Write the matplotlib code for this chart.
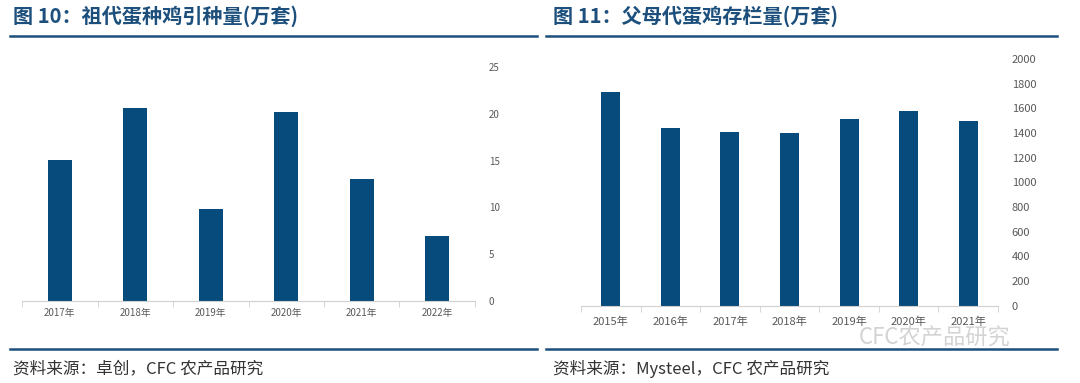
import matplotlib
matplotlib.use("Agg")
import matplotlib.pyplot as plt
import numpy as np

plt.rcParams['font.family'] = ['Noto Sans CJK SC', 'DejaVu Sans']

# left: 祖代蛋种鸡引种量
years_l = ["2017年", "2018年", "2019年", "2020年", "2021年", "2022年"]
vals_l = [15.1, 20.6, 9.8, 20.2, 13.0, 7.0]
yt_l = [0, 5, 10, 15, 20, 25]

# right: 父母代蛋鸡存栏量
years_r = ["2015年", "2016年", "2017年", "2018年", "2019年", "2020年", "2021年"]
vals_r = [1730, 1440, 1410, 1400, 1515, 1582, 1500]
yt_r = list(range(0, 2001, 200))

title_l = "图 10：祖代蛋种鸡引种量(万套)"
title_r = "图 11：父母代蛋鸡存栏量(万套)"
src_l = "资料来源：卓创，CFC 农产品研究"
src_r = "资料来源：Mysteel，CFC 农产品研究"

BAR = "#064b7b"
TITLE = "#1c4f7c"
GREY = "#595959"

fig = plt.figure(figsize=(10.8, 3.83), dpi=100)

def bars(ax, cats, vals, ticks, fs, xpad):
    x = np.arange(len(cats))
    ax.bar(x, vals, width=0.32, color=BAR, zorder=2)
    ax.set_xlim(-0.5, len(cats) - 0.5)
    ax.set_ylim(0, ticks[-1])
    ax.yaxis.tick_right()
    ax.set_yticks(ticks)
    ax.set_yticklabels([str(t) for t in ticks])
    ax.set_xticks(x)
    ax.set_xticklabels(cats)
    ax.set_xticks(np.arange(len(cats) + 1) - 0.5, minor=True)
    ax.tick_params(axis='x', which='major', length=0, labelsize=fs, colors=GREY, pad=xpad)
    ax.tick_params(axis='x', which='minor', length=4, color='#d0d0d0', direction='out')
    ax.tick_params(axis='y', length=0, labelsize=fs, colors=GREY, pad=10)
    for s in ['top', 'right', 'left']:
        ax.spines[s].set_visible(False)
    ax.spines['bottom'].set_color('#d0d0d0')

ax1 = fig.add_axes([0.0204, 0.214, 0.4194, 0.611])
bars(ax1, years_l, vals_l, yt_l, 7, 5)

ax2 = fig.add_axes([0.538, 0.2018, 0.386, 0.644])
bars(ax2, years_r, vals_r, yt_r, 8, 8)

# titles and rules
fig.text(0.012, 0.958, title_l, fontsize=14.5, fontweight='bold', color=TITLE, va='center')
fig.text(0.512, 0.958, title_r, fontsize=14.5, fontweight='bold', color=TITLE, va='center')
for x0, x1 in [(0.009, 0.497), (0.506, 0.979)]:
    fig.add_artist(plt.Line2D([x0, x1], [0.906, 0.906], color=TITLE, lw=1.8))
    fig.add_artist(plt.Line2D([x0, x1], [0.089, 0.089], color=TITLE, lw=1.8))

# watermark
fig.text(0.865, 0.118, "CFC农产品研究", fontsize=16, color='#c8c8c8', ha='center', va='center',
         alpha=0.8, zorder=0)

fig.text(0.012, 0.036, src_l, fontsize=12, color='#333333', va='center')
fig.text(0.512, 0.036, src_r, fontsize=12, color='#333333', va='center')

fig.savefig("out.png", dpi=100)
